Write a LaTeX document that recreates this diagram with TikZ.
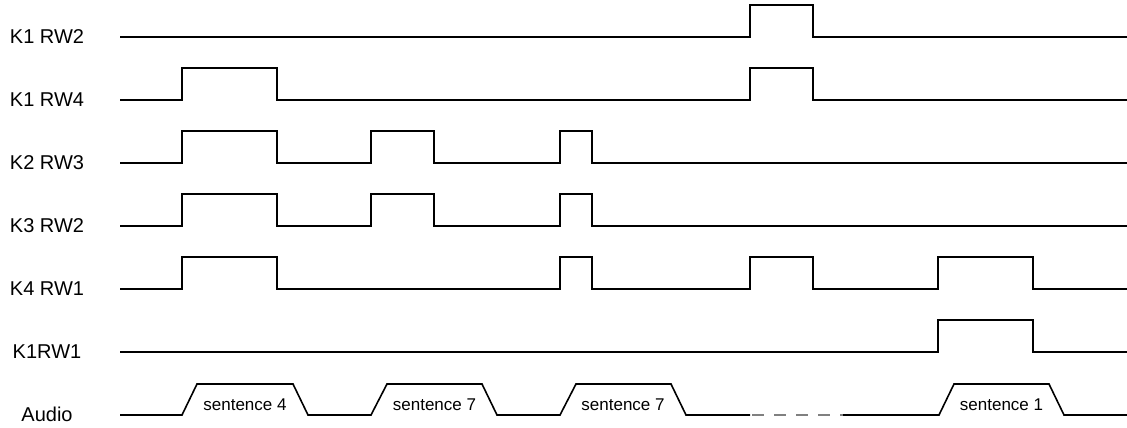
\documentclass[tikz,border=0pt]{standalone}
\usepackage{fontspec}
\setmainfont{Liberation Sans}
\begin{document}
\begin{tikzpicture}[x=1pt,y=-1pt,
  wave/.style={line width=1.6pt, line join=miter},
  lbl/.style={font=\fontsize{20}{24}\selectfont, anchor=base, inner sep=0pt},
  sent/.style={font=\fontsize{17}{20}\selectfont, anchor=base, inner sep=0pt},
  gapdash/.style={line width=1.6pt, gray, dash pattern=on 12pt off 10pt}]
\useasboundingbox (0,0) rectangle (1127,428);
\newcommand{\sigrow}[2]{%
  \draw[wave] (120,#1) \foreach \a/\b in {#2} { -- (\a,#1) -- (\a,{#1-32}) -- (\b,{#1-32}) -- (\b,#1) } -- (1127,#1);}
% labels
\node[lbl] (k1rw2) at (47,43.5) {K1 RW2};
\node[lbl] (k1rw4) at (47,106.5) {K1 RW4};
\node[lbl] (k2rw3) at (47,169.5) {K2 RW3};
\node[lbl] (k3rw2) at (47,232.5) {K3 RW2};
\node[lbl] (k4rw1) at (47,295.5) {K4 RW1};
\node[lbl] (k1rw1) at (47,358.5) {K1RW1};
\node[lbl] (audio) at (47,421.5) {Audio};
% waveforms
\sigrow{37}{750/813}
\sigrow{100}{182/277,750/813}
\sigrow{163}{182/277,371/434,560/592}
\sigrow{226}{182/277,371/434,560/592}
\sigrow{289}{182/277,560/592,750/813,938/1033}
\sigrow{352}{938/1033}
% audio
\draw[wave] (120,415) -- (182,415) -- (197,384) -- (293,384) -- (308,415)
  -- (371,415) -- (387,384) -- (482,384) -- (497,415)
  -- (560,415) -- (576,384) -- (671,384) -- (686,415) -- (750,415);
\draw[gapdash] (752,415) -- (843,415);
\draw[wave] (843,415) -- (939,415) -- (954,384) -- (1049,384) -- (1064,415) -- (1127,415);
\node[sent] (s4) at (245,410) {sentence 4};
\node[sent] (s7a) at (434.5,410) {sentence 7};
\node[sent] (s7b) at (623,410) {sentence 7};
\node[sent] (s1) at (1001.5,410) {sentence 1};
\end{tikzpicture}
\end{document}
